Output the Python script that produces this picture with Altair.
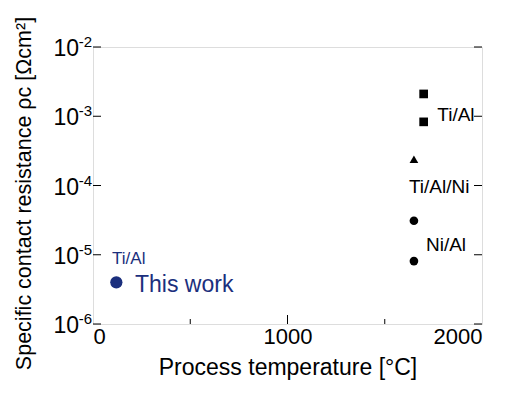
import altair as alt
import pandas as pd

# literature data
lit_temp = [1700, 1700, 1650, 1650, 1650]
lit_rho = [2.1e-3, 8.3e-4, 2.4e-4, 3.1e-5, 8.1e-6]
lit_shape = ["square", "square", "triangle-up", "circle", "circle"]

# this work
tw_temp = [120]
tw_rho = [4.0e-6]

# annotation labels
lab_text = ["Ti/Al", "Ti/Al/Ni", "Ni/Al"]
lab_temp = [1866, 1780, 1815]
lab_rho = [1.04e-3, 0.95e-4, 1.40e-5]

tw_lab_text = ["Ti/Al", "This work"]
tw_lab_temp = [98, 216]
tw_lab_rho = [8.7e-6, 3.68e-6]
tw_lab_size = [17, 23]

decades = [1e-6, 1e-5, 1e-4, 1e-3, 1e-2]
exps = ["-6", "-5", "-4", "-3", "-2"]
x_major = [1000]
x_minor = [500, 1500]

FONT = "Liberation Sans"
BLUE = "#1b2f7d"

xs = alt.Scale(domain=[0, 2000], nice=False)
ys = alt.Scale(type="log", domain=[1e-6, 1e-2], nice=False)

lit = pd.DataFrame({"t": lit_temp, "r": lit_rho, "s": lit_shape})
tw = pd.DataFrame({"t": tw_temp, "r": tw_rho})
lab = pd.DataFrame({"t": lab_temp, "r": lab_rho, "txt": lab_text})
twl = pd.DataFrame({"t": tw_lab_temp, "r": tw_lab_rho, "txt": tw_lab_text, "sz": tw_lab_size})
dec = pd.DataFrame({"r": decades, "e": exps})
xmaj = pd.DataFrame({"t": x_major})
xmin = pd.DataFrame({"t": x_minor})

base_x = alt.X("t:Q", scale=xs, axis=alt.Axis(
    title="Process temperature [°C]", values=[0, 1000, 2000], format="d", ticks=False, domain=False,
    grid=False, labelFontSize=22, labelFont=FONT, labelColor="black", labelPadding=2,
    titleFontSize=23, titleFont=FONT, titleFontWeight="normal", titleColor="black", titlePadding=9))
base_y = alt.Y("r:Q", scale=ys, axis=alt.Axis(
    title="Specific contact resistance ρc [Ωcm²]", labels=False, ticks=False, domain=False,
    grid=False, titleFontSize=21.5, titleFont=FONT, titleFontWeight="normal", titleColor="black",
    titlePadding=58, titleY=146))

pts = alt.Chart(lit).mark_point(filled=True, color="black", opacity=1, size=75).encode(
    x=base_x, y=base_y,
    shape=alt.Shape("s:N", scale=None, legend=None))

twpt = alt.Chart(tw).mark_circle(color=BLUE, opacity=1, size=150).encode(
    x=alt.X("t:Q", scale=xs), y=alt.Y("r:Q", scale=ys))

labels = alt.Chart(lab).mark_text(font=FONT, fontSize=19, color="black").encode(
    x=alt.X("t:Q", scale=xs), y=alt.Y("r:Q", scale=ys), text="txt:N")

twlabels = alt.Chart(twl).mark_text(font=FONT, color=BLUE, align="left").encode(
    x=alt.X("t:Q", scale=xs), y=alt.Y("r:Q", scale=ys), text="txt:N",
    size=alt.Size("sz:Q", scale=None, legend=None))

# decade labels 10^n
ten = alt.Chart(dec).mark_text(font=FONT, fontSize=23, color="black", align="right",
                               baseline="middle", dy=2).encode(
    x=alt.value(-14), y=alt.Y("r:Q", scale=ys), text=alt.value("10"))
ex = alt.Chart(dec).mark_text(font=FONT, fontSize=15, color="black", align="right",
                              baseline="middle", dy=-5).encode(
    x=alt.value(-1), y=alt.Y("r:Q", scale=ys), text="e:N")

# inward ticks
lt = alt.Chart(dec).mark_rule(color="black", strokeWidth=1).encode(
    x=alt.value(0), x2=alt.value(8), y=alt.Y("r:Q", scale=ys))
rt = alt.Chart(dec).mark_rule(color="black", strokeWidth=1).encode(
    x=alt.value(381), x2=alt.value(389), y=alt.Y("r:Q", scale=ys))
bmaj = alt.Chart(xmaj).mark_rule(color="black", strokeWidth=1).encode(
    x=alt.X("t:Q", scale=xs), y=alt.value(268), y2=alt.value(277))
bmin = alt.Chart(xmin).mark_rule(color="black", strokeWidth=1).encode(
    x=alt.X("t:Q", scale=xs), y=alt.value(272), y2=alt.value(277))

chart = alt.layer(pts, twpt, labels, twlabels, ten, ex, lt, rt, bmaj, bmin).properties(
    width=389, height=277,
    autosize=alt.AutoSizeParams(type="none"),
    padding={"left": 85, "top": 39, "right": 21, "bottom": 63},
).configure_view(stroke="#333333", strokeWidth=1.3).configure(background="white")

chart.save("out.html", embed_options={"renderer": "svg", "actions": False})
